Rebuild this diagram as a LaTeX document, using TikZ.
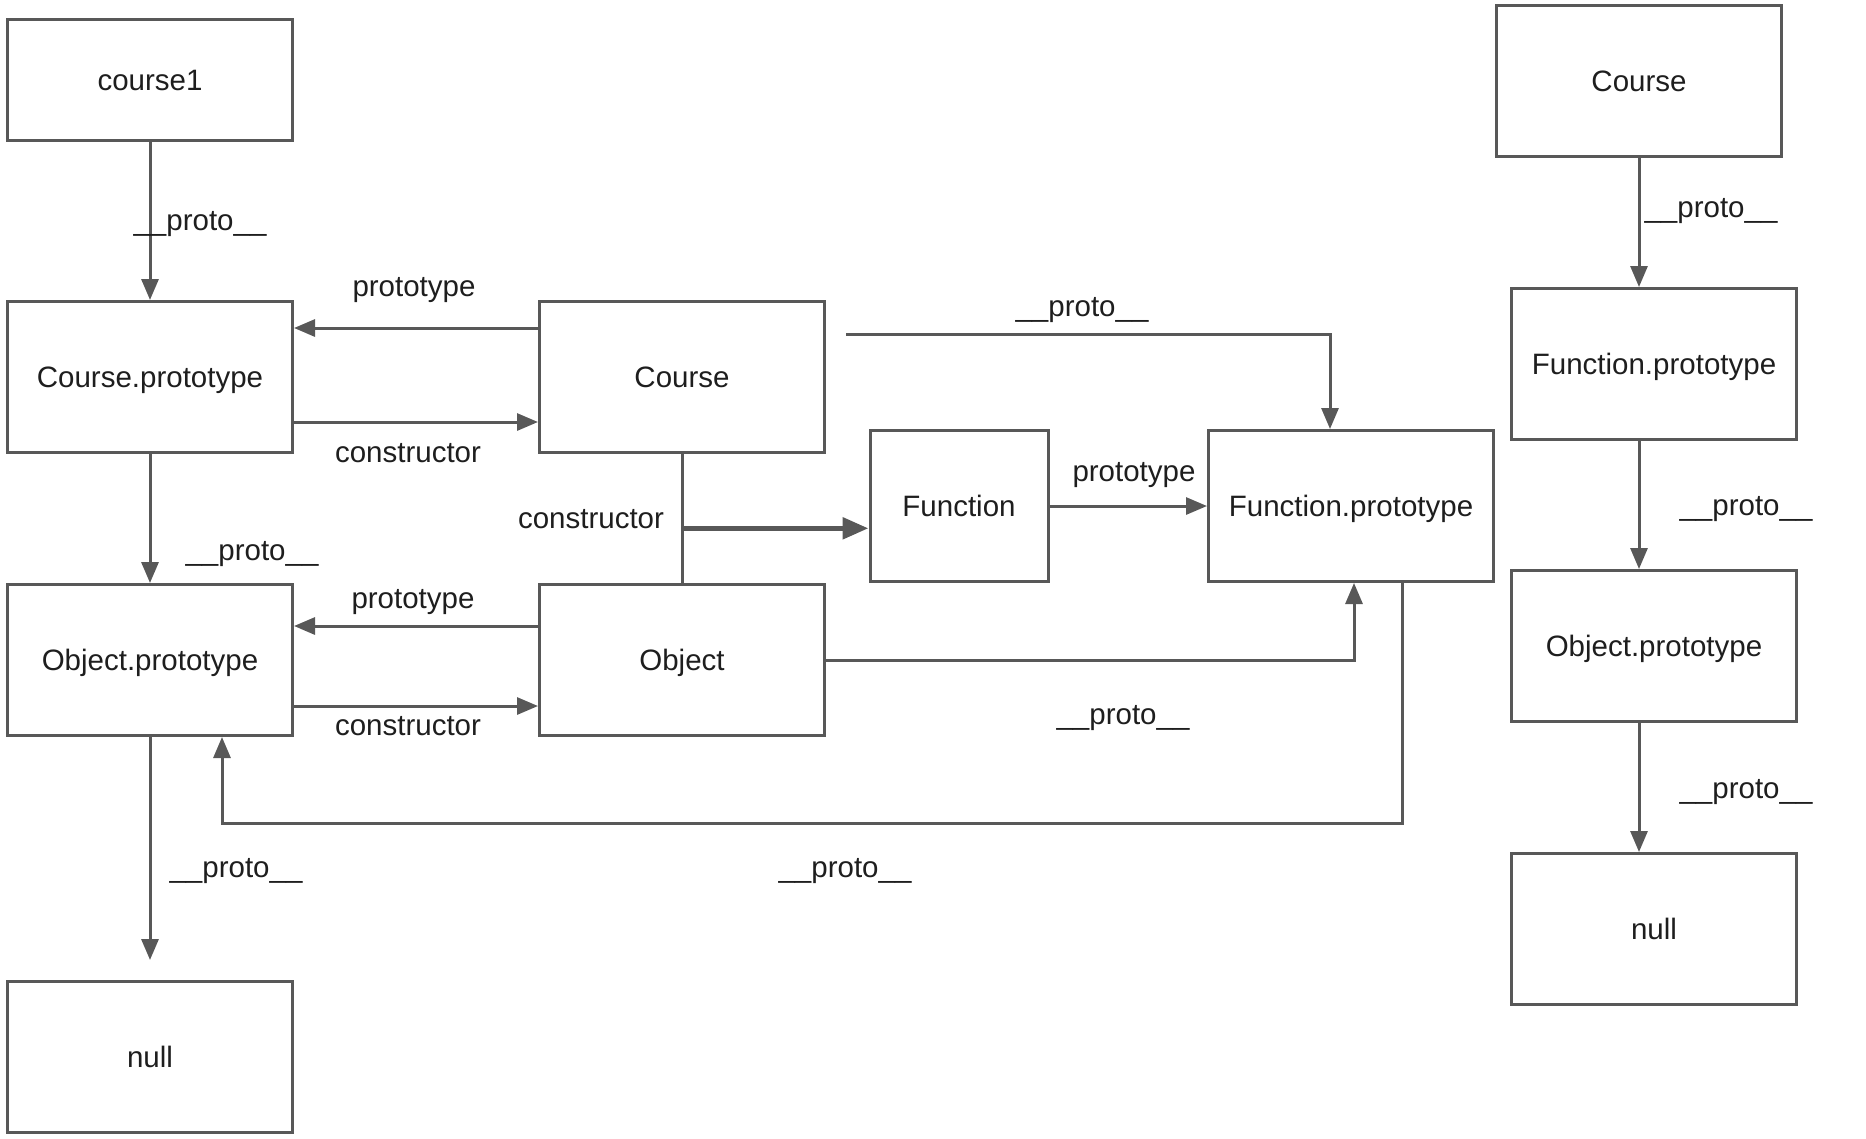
\documentclass[tikz,border=0pt]{standalone}
\usepackage{fontspec}
\setmainfont{Liberation Sans}
\usepackage{xcolor}
\usetikzlibrary{arrows.meta,calc}
\definecolor{linegray}{RGB}{88,88,88}
\definecolor{textdark}{RGB}{30,30,30}

\begin{document}
\begin{tikzpicture}[x=1pt,y=-1pt,>={Triangle[length=21pt,width=17pt]},
  box/.style={draw=linegray,line width=3pt,minimum width=285pt,minimum height=151pt,inner sep=0pt,text=textdark,font=\fontsize{29.5}{34}\selectfont,text height=21pt,text depth=0pt},
  lbl/.style={inner sep=0pt,text=textdark,font=\fontsize{29.5}{34}\selectfont,text height=21pt,text depth=2pt},
  link/.style={draw=linegray,line width=3pt,->}]
\useasboundingbox (0,0) rectangle (1866,1138);
\node[box,minimum height=121pt] (course1) at (150,80) {course1};
\node[box] (cproto) at (150,377) {Course.prototype};
\node[box] (oproto) at (150,660) {Object.prototype};
\node[box] (nullL) at (150,1057) {null};
\node[box] (course) at (682,377) {Course};
\node[box] (object) at (682,660) {Object};
\node[box,minimum width=178pt] (func) at (959,506) {Function};
\node[box] (fproto) at (1351,506) {Function.prototype};
\node[box] (courseR) at (1639,81) {Course};
\node[box] (fprotoR) at (1654,364) {Function.prototype};
\node[box] (oprotoR) at (1654,646) {Object.prototype};
\node[box] (nullR) at (1654,929) {null};

\draw[link] (course1) -- (cproto);
\draw[link] ([yshift=-28pt]course.north west) -- ([yshift=-28pt]cproto.north east);
\draw[link] ([yshift=32pt]cproto.south east) -- ([yshift=32pt]course.south west);
\draw[link] (cproto) -- (oproto);
\draw[link] ([yshift=-43pt]object.north west) -- ([yshift=-43pt]oproto.north east);
\draw[link] ([yshift=31pt]oproto.south east) -- ([yshift=31pt]object.south west);
\draw[link] (oproto.south) -- ([yshift=20pt]nullL.north);
\draw[link] ([xshift=20pt,yshift=-34pt]course.north east) -| ([xshift=-21pt]fproto.north);
\draw[draw=linegray,line width=3pt] (course) -- (object);
\coordinate (ctor) at ($(course.south)!0.576!(object.north)$);
\draw[link,line width=5.5pt,>={Triangle[length=26pt,width=21pt]}] (ctor) -- (ctor -| func.west);
\draw[link] (func) -- (fproto);
\draw[link] (object) -| ([xshift=3pt]fproto.south);
\draw[link] ([xshift=51pt]fproto.south) -- ++(0,240) -| ([xshift=72pt]oproto.south);
\draw[link] (courseR) -- (courseR |- fprotoR.north);
\draw[link] (courseR |- fprotoR.south) -- (courseR |- oprotoR.north);
\draw[link] (courseR |- oprotoR.south) -- (courseR |- nullR.north);

\node[lbl] (p1) at (200,221) {\_\_proto\_\_};
\node[lbl] (p2) at (414,287) {prototype};
\node[lbl] (c1) at (408,453) {constructor};
\node[lbl] (p3) at (252,551) {\_\_proto\_\_};
\node[lbl] (p4) at (1082,307) {\_\_proto\_\_};
\node[lbl] (c2) at (591,519) {constructor};
\node[lbl] (p5) at (1134,472) {prototype};
\node[lbl] (p6) at (413,599) {prototype};
\node[lbl] (c3) at (408,726) {constructor};
\node[lbl] (p7) at (1123,715) {\_\_proto\_\_};
\node[lbl] (p8) at (236,868) {\_\_proto\_\_};
\node[lbl] (p9) at (845,868) {\_\_proto\_\_};
\node[lbl] (p10) at (1711,208) {\_\_proto\_\_};
\node[lbl] (p11) at (1746,506) {\_\_proto\_\_};
\node[lbl] (p12) at (1746,789) {\_\_proto\_\_};
\end{tikzpicture}
\end{document}
